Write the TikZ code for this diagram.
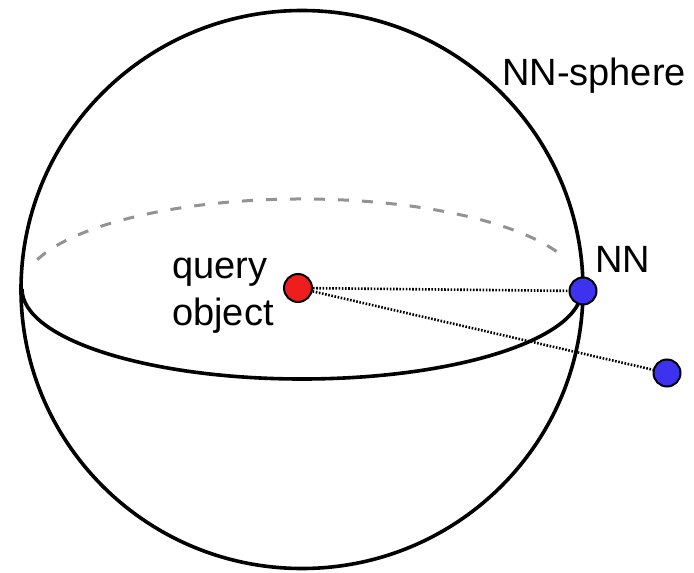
\documentclass[tikz,border=0pt]{standalone}
\usepackage{fontspec}
\setmainfont{Liberation Sans}
\begin{document}
\begin{tikzpicture}[x=1pt,y=-1pt,
  outline/.style={line width=3.6pt,black},
  backline/.style={line width=3pt,gray!85,dash pattern=on 11pt off 13pt},
  dotline/.style={line width=2.6pt,black,dash pattern=on 1.6pt off 1.6pt},
  pt/.style={circle,draw=black,line width=2pt,inner sep=0pt,minimum size=28pt},
  label/.style={inner sep=0pt,font=\fontsize{38}{47}\selectfont},
]
\useasboundingbox (0,0) rectangle (694,573);
% sphere outline
\draw[outline] (302,289.5) ellipse [x radius=281, y radius=279];
% hidden back half of the equator (y axis points down)
\draw[backline] (302,289) ++(199:280 and 90) arc[start angle=199, end angle=339, x radius=280, y radius=90];
% visible front half of the equator
\draw[outline] (302,289) ++(180:280 and 90) arc[start angle=180, end angle=0, x radius=280, y radius=90];
% points
\node[pt,fill={rgb,255:red,238;green,30;blue,30}] (q) at (298,288) {};
\node[pt,fill={rgb,255:red,60;green,50;blue,240},minimum size=27pt] (nn) at (583,291) {};
\node[pt,fill={rgb,255:red,60;green,50;blue,240},minimum size=27pt] (far) at (667,373) {};
% distances
\draw[dotline] (q) -- (nn);
\draw[dotline] (q) -- (far);
% labels
\node[label,anchor=base west] (sph) at (502,85) {NN-sphere};
\node[label,anchor=base west] (nnl) at (595,272) {NN};
\node[label,anchor=base west,align=left] (ql) at (172,325) {query\\object};
\end{tikzpicture}
\end{document}
